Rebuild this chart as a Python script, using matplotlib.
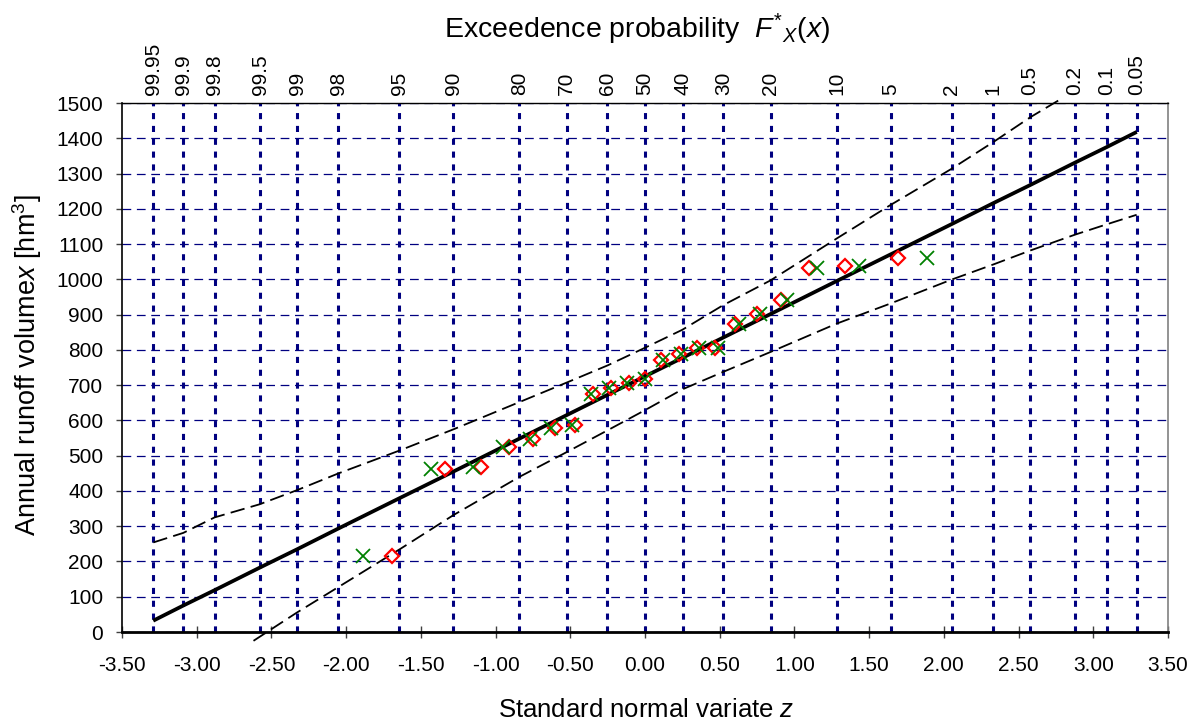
import matplotlib
matplotlib.use("Agg")
import matplotlib.pyplot as plt
from matplotlib.ticker import FormatStrFormatter, MultipleLocator

plt.rcParams["font.family"] = "Liberation Sans"
plt.rcParams["axes.unicode_minus"] = False
plt.rcParams["mathtext.fontset"] = "custom"
plt.rcParams["mathtext.rm"] = "Liberation Sans"
plt.rcParams["mathtext.it"] = "Liberation Sans:italic"

# exceedence probabilities (top axis) and their standard normal variates
prob_labels = ["99.95", "99.9", "99.8", "99.5", "99", "98", "95", "90", "80", "70", "60",
               "50", "40", "30", "20", "10", "5", "2", "1", "0.5", "0.2", "0.1", "0.05"]
prob_z = [-3.291, -3.090, -2.878, -2.576, -2.326, -2.054, -1.645, -1.282, -0.842, -0.524, -0.253,
          0.0, 0.253, 0.524, 0.842, 1.282, 1.645, 2.054, 2.326, 2.576, 2.878, 3.090, 3.291]

# fitted normal line, read at the probability positions
fit_v = [32, 75, 119, 183, 235, 293, 379, 455, 548, 615, 672,
         725, 778, 835, 902, 995, 1071, 1157, 1215, 1267, 1331, 1375, 1418]

# confidence limits (dashed)
upper_z = [-3.29, -3.09, -2.88, -2.58, -2.33, -2.05, -1.64, -1.28, -0.84, -0.52, -0.25,
           0.00, 0.25, 0.52, 0.84, 1.28, 1.64, 2.05, 2.33, 2.58, 2.77]
upper_v = [254, 281, 325, 362, 402, 450, 515, 575, 652, 708, 756,
           806, 857, 926, 997, 1115, 1210, 1313, 1389, 1460, 1508]
lower_z = [-2.62, -2.33, -2.05, -1.64, -1.28, -0.84, -0.52, -0.25, 0.00, 0.25,
           0.52, 0.84, 1.28, 1.64, 2.05, 2.33, 2.58, 2.88, 3.09, 3.29]
lower_v = [-25, 55, 128, 235, 332, 440, 511, 572, 629, 688,
           737, 794, 874, 931, 999, 1042, 1082, 1127, 1156, 1183]

# observed annual runoff volumes (sorted) and two plotting positions
runoff = [216, 463, 468, 524, 548, 578, 587, 675, 692, 705, 716,
          770, 788, 804, 805, 873, 901, 942, 1033, 1038, 1061]
z_red = [-1.69, -1.34, -1.10, -0.91, -0.75, -0.60, -0.47, -0.35, -0.23, -0.11, 0.00,
         0.11, 0.23, 0.35, 0.47, 0.60, 0.75, 0.91, 1.10, 1.34, 1.69]
z_green = [-1.89, -1.43, -1.15, -0.95, -0.77, -0.63, -0.49, -0.36, -0.24, -0.12, 0.00,
           0.12, 0.24, 0.36, 0.49, 0.63, 0.77, 0.95, 1.15, 1.43, 1.89]

W, H = 1195, 722
fig = plt.figure(figsize=(W / 100, H / 100), dpi=100)
ax = fig.add_axes([122 / W, 1 - 632 / H, (1168 - 122) / W, (632 - 103) / H])
ax.set_xlim(-3.5, 3.5)
ax.set_ylim(0, 1500)

navy = "#000080"
ax.set_yticks(range(0, 1501, 100))
ax.grid(axis="y", color=navy, lw=0.9, linestyle=(0, (7, 4.5)), zorder=1)
ax.vlines(prob_z, 0, 1500, colors=navy, lw=2.2, linestyles=(0, (2, 2.2)), zorder=2)

ax.plot(upper_z, upper_v, color="k", lw=1.3, ls=(0, (8, 3.5)), zorder=3, clip_on=False)
ax.plot(lower_z, lower_v, color="k", lw=1.3, ls=(0, (8, 3.5)), zorder=3, clip_on=False)
ax.plot(prob_z, fit_v, color="k", lw=2.7, zorder=4, solid_capstyle="butt")

ax.plot(z_red, runoff, ls="none", marker="D", ms=7.3, mfc="none", mec="#ff0000", mew=1.6, zorder=5)
ax.plot(z_green, runoff, ls="none", marker="x", ms=10.5, mec="#008000", mew=1.3, zorder=6)

ax.xaxis.set_major_locator(MultipleLocator(0.5))
ax.xaxis.set_major_formatter(FormatStrFormatter("%.2f"))
ax.tick_params(axis="x", direction="inout", length=8, width=1, color="#404040",
               labelsize=15, pad=13)
ax.tick_params(axis="y", direction="out", length=4.5, width=1, color="#404040",
               labelsize=15, pad=9)

for side, c, w in [("left", "k", 1.2), ("bottom", "k", 2.0), ("top", "k", 1.0), ("right", "#808080", 1.2)]:
    ax.spines[side].set_color(c)
    ax.spines[side].set_linewidth(w)

top = ax.secondary_xaxis("top")
top.set_xticks(prob_z)
top.set_xticklabels(prob_labels, rotation=90)
top.tick_params(length=0, labelsize=15, pad=6)
top.spines["top"].set_visible(False)

fig.text(637 / W, 1 - 38 / H, r"Exceedence probability  $F^{*}{}_{X}(x)$",
         ha="center", va="baseline", fontsize=20.5)
fig.text(646 / W, 1 - 717 / H, r"Standard normal variate $z$",
         ha="center", va="baseline", fontsize=18.5)
fig.text(27 / W, 1 - 365 / H, r"Annual runoff volume$x$ [hm$^3$]",
         ha="center", va="center", rotation=90, fontsize=19.5)

fig.savefig("out.png", dpi=100)
